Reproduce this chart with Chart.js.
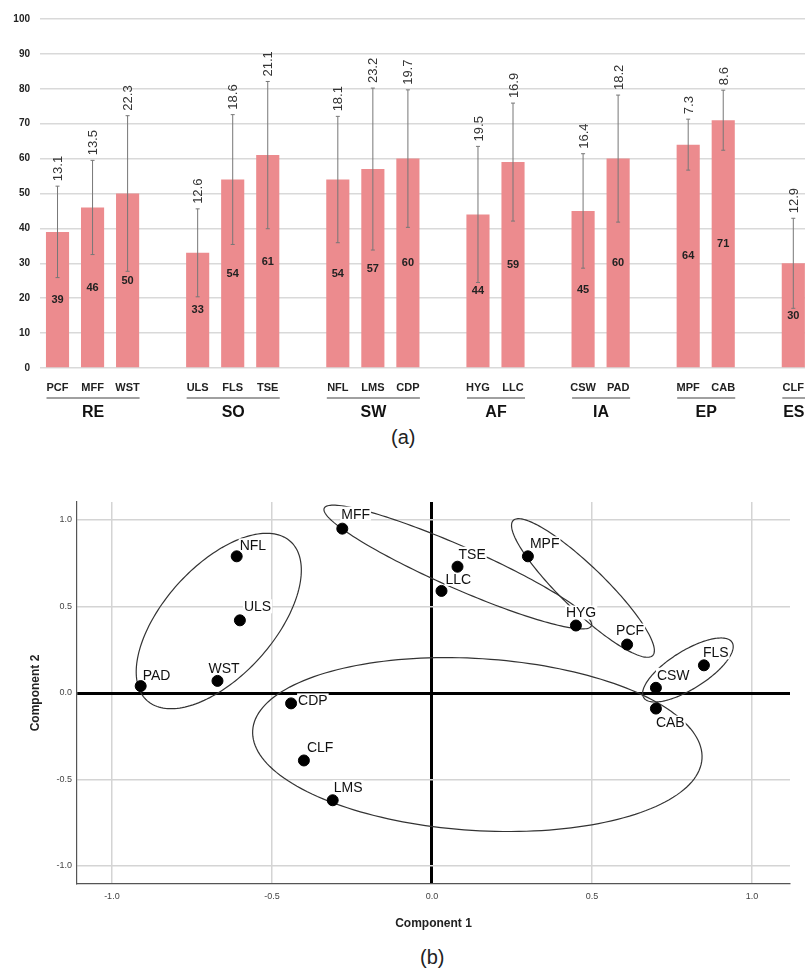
<!DOCTYPE html>
<html>
<head>
<meta charset="utf-8">
<script src="https://cdn.jsdelivr.net/npm/chart.js@4.4.1/dist/chart.umd.min.js"></script>
<style>
  body { margin: 0; overflow: hidden; background: #fff; }
  .cap { position: absolute; font: 20px 'Liberation Sans', Arial, sans-serif; color: #222; line-height: 24px; }
</style>
</head>
<body>
<div style="position:absolute;left:0;top:0;width:817px;height:425px">
  <canvas id="barChart" width="817" height="425"></canvas>
</div>
<div class="cap" style="left:391px;top:425px">(a)</div>
<div style="position:absolute;left:0;top:470px;width:805px;height:475px">
  <canvas id="pcaChart" width="805" height="475"></canvas>
</div>
<div class="cap" style="left:420px;top:945px">(b)</div>

<script>
// ---- (a) bar chart data ----
const groupNames = ['RE', 'SO', 'SW', 'AF', 'IA', 'EP', 'ES'];
const groupItems = [
    ['PCF', 'MFF', 'WST'],
    ['ULS', 'FLS', 'TSE'],
    ['NFL', 'LMS', 'CDP'],
    ['HYG', 'LLC'],
    ['CSW', 'PAD'],
    ['MPF', 'CAB'],
    ['CLF']
];
const meanScores = [39, 46, 50, 33, 54, 61, 54, 57, 60, 44, 59, 45, 60, 64, 71, 30];
const sdScores = [13.1, 13.5, 22.3, 12.6, 18.6, 21.1, 18.1, 23.2, 19.7, 19.5, 16.9, 16.4, 18.2, 7.3, 8.6, 12.9];
const yTicks = { min: 0, max: 100, step: 10 };

// ---- (b) component plot data ----
const pcaNames = ['PAD', 'WST', 'ULS', 'NFL', 'MFF', 'TSE', 'LLC', 'MPF', 'HYG', 'PCF', 'FLS', 'CSW', 'CAB', 'CDP', 'CLF', 'LMS'];
const comp1 = [-0.91, -0.67, -0.60, -0.61, -0.28, 0.08, 0.03, 0.30, 0.45, 0.61, 0.85, 0.70, 0.70, -0.44, -0.40, -0.31];
const comp2 = [0.04, 0.07, 0.42, 0.79, 0.95, 0.73, 0.59, 0.79, 0.39, 0.28, 0.16, 0.03, -0.09, -0.06, -0.39, -0.62];
// cluster ellipses in component units: centre + two half-axis vectors
const ellipseCenters = [[-0.666, 0.416], [0.081, 0.728], [0.472, 0.607], [0.80, 0.133], [0.142, -0.298]];
const ellipseAxisU = [[0.224, 0.460], [0.4175, -0.340], [0.218, -0.390], [0.138, 0.160], [0.702, -0.0817]];
const ellipseAxisV = [[0.128, -0.213], [-0.0265, -0.111], [-0.0478, -0.0913], [0.0315, -0.093], [-0.0169, -0.496]];

const narrow = "'Liberation Sans Narrow', 'Liberation Sans', Arial, sans-serif";
const sans = "'Liberation Sans', Arial, sans-serif";

// build category axis with an empty slot between groups
const barLabels = [];
const barValues = [];
const barSd = [];
const groupSpans = [];
let k = 0;
groupItems.forEach(function(items, g) {
    const start = barLabels.length;
    items.forEach(function(n) {
        barLabels.push(n);
        barValues.push(meanScores[k]);
        barSd.push(sdScores[k]);
        k++;
    });
    groupSpans.push([start, barLabels.length - 1]);
    if (g < groupItems.length - 1) {
        barLabels.push('');
        barValues.push(null);
        barSd.push(null);
    }
});

/**
 * error bars, sd labels, value labels and group headers
 */
const barExtras = {
    id: 'barExtras',
    afterDatasetsDraw(chart) {
        const c = chart.ctx;
        const ys = chart.scales.y;
        const meta = chart.getDatasetMeta(0);
        c.save();
        barValues.forEach(function(v, i) {
            if (v === null) return;
            const x = meta.data[i].x;
            const yTop = ys.getPixelForValue(v + barSd[i]);
            const yBot = ys.getPixelForValue(v - barSd[i]);
            c.strokeStyle = '#777';
            c.lineWidth = 1;
            c.beginPath();
            c.moveTo(x, yTop); c.lineTo(x, yBot);
            c.moveTo(x - 2, yTop); c.lineTo(x + 2, yTop);
            c.moveTo(x - 2, yBot); c.lineTo(x + 2, yBot);
            c.stroke();

            // value in the middle of the bar
            c.fillStyle = '#222';
            c.font = 'bold 11px ' + narrow;
            c.textAlign = 'center';
            c.textBaseline = 'middle';
            c.fillText(String(v), x, ys.getPixelForValue(v / 2));

            // sd, written upwards above the error bar
            c.save();
            c.translate(x + 1, yTop - 5);
            c.rotate(-Math.PI / 2);
            c.font = '13px ' + sans;
            c.fillStyle = '#333';
            c.textAlign = 'left';
            c.fillText(barSd[i].toFixed(1), 0, 0);
            c.restore();
        });

        // group underline + name
        groupSpans.forEach(function(span, g) {
            const x1 = meta.data[span[0]].x - 11;
            const x2 = meta.data[span[1]].x + 12;
            c.strokeStyle = '#a0a0a0';
            c.lineWidth = 2;
            c.beginPath();
            c.moveTo(x1, 398); c.lineTo(x2, 398);
            c.stroke();
            c.fillStyle = '#111';
            c.font = 'bold 16px ' + sans;
            c.textAlign = 'center';
            c.textBaseline = 'middle';
            c.fillText(groupNames[g], (x1 + x2) / 2, 413);
        });
        c.restore();
    }
};

new Chart(document.getElementById('barChart').getContext('2d'), {
    type: 'bar',
    data: {
        labels: barLabels,
        datasets: [{
            data: barValues,
            backgroundColor: '#EC8B8E',
            borderWidth: 0,
            barPercentage: 0.66,
            categoryPercentage: 1
        }]
    },
    options: {
        responsive: false,
        animation: false,
        layout: { padding: { top: 19, right: 0, left: 0, bottom: 0 } },
        plugins: { legend: { display: false }, tooltip: { enabled: false } },
        scales: {
            x: {
                afterFit: function(s) { s.height = 57; },
                grid: { display: false, drawTicks: false },
                border: { display: false },
                ticks: {
                    autoSkip: false, maxRotation: 0, padding: 13,
                    color: '#222',
                    font: { family: narrow, size: 11, weight: 'bold' }
                }
            },
            y: {
                min: yTicks.min, max: yTicks.max,
                afterFit: function(s) { s.width = 40; },
                grid: { color: '#d9d9d9', lineWidth: 1.5, drawTicks: false },
                border: { display: false },
                ticks: {
                    stepSize: yTicks.step, padding: 10,
                    color: '#222',
                    font: { family: sans, size: 10, weight: 'bold' }
                }
            }
        }
    },
    plugins: [barExtras]
});

// label placement around each point (px)
const labelOffsets = {
    PAD: [2, -11], WST: [-9, -13], ULS: [4, -14], NFL: [3, -11], MFF: [-1, -15],
    TSE: [1, -13], LLC: [4, -12], MPF: [2, -13], HYG: [-10, -13], PCF: [-11, -14],
    FLS: [-1, -13], CSW: [1, -13], CAB: [0, 14], CDP: [7, -3], CLF: [3, -13], LMS: [1, -13]
};

/**
 * cluster ellipses + point names
 */
const pcaExtras = {
    id: 'pcaExtras',
    beforeDatasetsDraw(chart) {
        const c = chart.ctx;
        const xs = chart.scales.x;
        const ys = chart.scales.y;
        c.save();
        c.strokeStyle = '#333';
        c.lineWidth = 1.2;
        ellipseCenters.forEach(function(cen, e) {
            const u = ellipseAxisU[e];
            const v = ellipseAxisV[e];
            c.beginPath();
            for (let s = 0; s <= 180; s++) {
                const t = s / 180 * Math.PI * 2;
                const px = xs.getPixelForValue(cen[0] + u[0] * Math.cos(t) + v[0] * Math.sin(t));
                const py = ys.getPixelForValue(cen[1] + u[1] * Math.cos(t) + v[1] * Math.sin(t));
                if (s === 0) c.moveTo(px, py); else c.lineTo(px, py);
            }
            c.closePath();
            c.stroke();
        });

        c.font = '14px ' + sans;
        c.textAlign = 'left';
        c.textBaseline = 'middle';
        pcaNames.forEach(function(n, i) {
            const off = labelOffsets[n];
            const x = xs.getPixelForValue(comp1[i]) + off[0];
            const y = ys.getPixelForValue(comp2[i]) + off[1];
            const w = c.measureText(n).width;
            c.fillStyle = '#fff';
            c.fillRect(x - 1, y - 7, w + 2, 14);
            c.fillStyle = '#111';
            c.fillText(n, x, y + 1);
        });
        c.restore();
    }
};

function zeroLine(ctx) {
    return ctx.tick && ctx.tick.value === 0;
}

new Chart(document.getElementById('pcaChart').getContext('2d'), {
    type: 'scatter',
    data: {
        datasets: [{
            data: comp1.map(function(x, i) { return { x: x, y: comp2[i] }; }),
            backgroundColor: '#000',
            borderColor: '#000',
            pointRadius: 5.5
        }]
    },
    options: {
        responsive: false,
        animation: false,
        layout: { padding: { top: 32, right: 15, left: 0, bottom: 0 } },
        plugins: { legend: { display: false }, tooltip: { enabled: false } },
        scales: {
            x: {
                type: 'linear', min: -1.109, max: 1.119,
                afterFit: function(s) { s.height = 61; },
                grid: {
                    color: function(ctx) { return zeroLine(ctx) ? '#000' : '#d4d4d4'; },
                    lineWidth: function(ctx) { return zeroLine(ctx) ? 3 : 1.5; },
                    drawTicks: false
                },
                border: { display: true, color: '#555', width: 1.2 },
                ticks: {
                    stepSize: 0.5, includeBounds: false, padding: 7,
                    callback: function(v) { return v.toFixed(1); },
                    color: '#444', font: { family: narrow, size: 9 }
                },
                title: {
                    display: true, text: 'Component 1', color: '#222',
                    font: { family: narrow, size: 12, weight: 'bold' },
                    padding: { top: 0, bottom: 14 }
                }
            },
            y: {
                type: 'linear', min: -1.104, max: 1.104,
                afterFit: function(s) { s.width = 77; },
                grid: {
                    color: function(ctx) { return zeroLine(ctx) ? '#000' : '#d4d4d4'; },
                    lineWidth: function(ctx) { return zeroLine(ctx) ? 3 : 1.5; },
                    drawTicks: false
                },
                border: { display: true, color: '#555', width: 1.2 },
                ticks: {
                    stepSize: 0.5, includeBounds: false, padding: 5,
                    callback: function(v) { return v.toFixed(1); },
                    color: '#444', font: { family: narrow, size: 9 }
                },
                title: {
                    display: true, text: 'Component 2', color: '#222',
                    font: { family: narrow, size: 12, weight: 'bold' },
                    padding: { top: 28, bottom: 0 }
                }
            }
        }
    },
    plugins: [pcaExtras]
});
</script>
</body>
</html>
